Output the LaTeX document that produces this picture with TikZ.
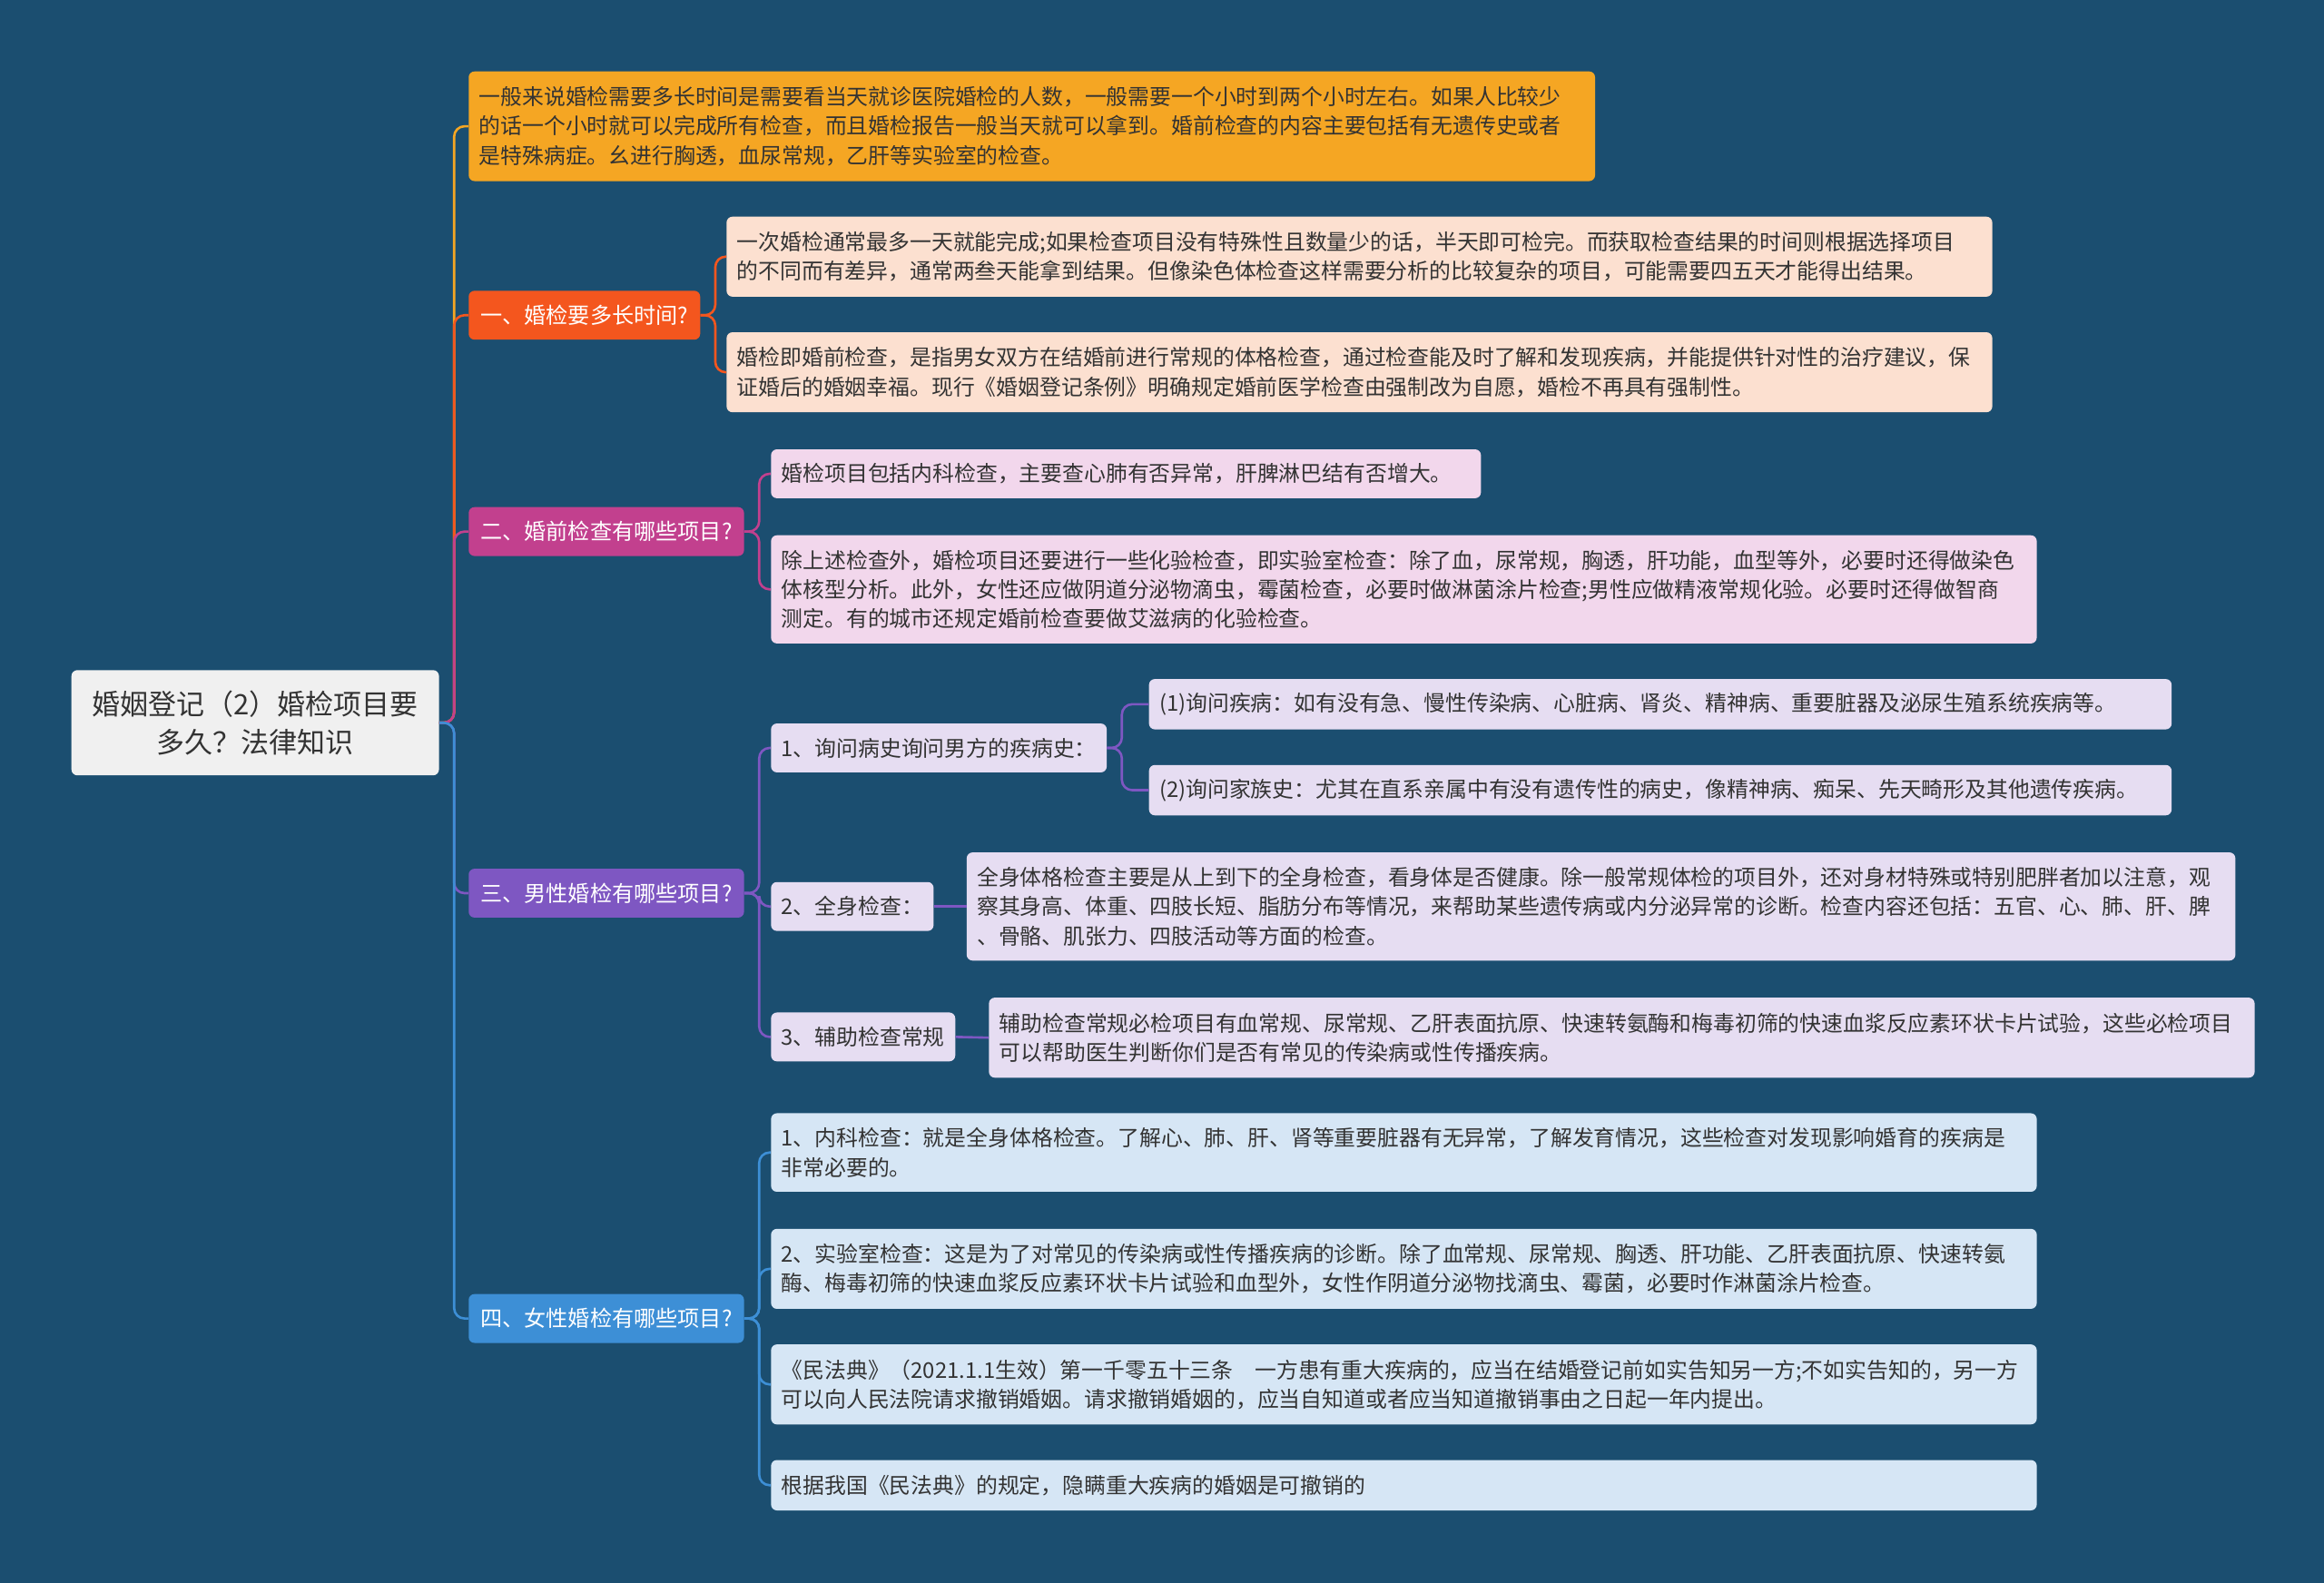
\documentclass[tikz,border=0pt]{standalone}
\usepackage{fontspec}
\setmainfont{Noto Sans CJK SC}
\definecolor{bg}{HTML}{1B4E70}
\definecolor{cOr}{HTML}{F5A623}
\definecolor{cRd}{HTML}{F4561E}
\definecolor{cMg}{HTML}{C2408E}
\definecolor{cPu}{HTML}{7E57C2}
\definecolor{cBl}{HTML}{3D8FD6}
\definecolor{fRd}{HTML}{FCE0D0}
\definecolor{fMg}{HTML}{F2D7EC}
\definecolor{fPu}{HTML}{E6DDF2}
\definecolor{fBl}{HTML}{D6E6F5}
\definecolor{txt}{HTML}{333333}
\begin{document}
\begin{tikzpicture}[x=1pt,y=-1pt,
  box/.style={anchor=north west,rounded corners=4pt,inner xsep=7pt,inner ysep=0pt,align=left,text=txt,font=\fontsize{14.6}{19.8}\selectfont},
  br/.style={box,text=white,inner xsep=8pt,font=\fontsize{14.8}{19}\selectfont},
  ln/.style={line width=1.6pt,rounded corners=7pt}]
\fill[bg] (0,0) rectangle (1568,1068);
\useasboundingbox (0,0) rectangle (1568,1068);
% root
\node[box,fill=black!6,inner xsep=8pt,text width=232,minimum height=71,align=center,font=\fontsize{19}{26}\selectfont] (root) at (48,452) {婚姻登记（2）婚检项目要\\多久？法律知识};
% top
\node[box,fill=cOr,text width=746,minimum height=74] (top) at (316,48) {一般来说婚检需要多长时间是需要看当天就诊医院婚检的人数，一般需要一个小时到两个小时左右。如果人比较少\\的话一个小时就可以完成所有检查，而且婚检报告一般当天就可以拿到。婚前检查的内容主要包括有无遗传史或者\\是特殊病症。幺进行胸透，血尿常规，乙肝等实验室的检查。};
% branches
\node[br,fill=cRd,minimum height=33] (b1) at (316,196) {一、婚检要多长时间?};
\node[br,fill=cMg,minimum height=33] (b2) at (316,342) {二、婚前检查有哪些项目?};
\node[br,fill=cPu,minimum height=33] (b3) at (316,586) {三、男性婚检有哪些项目?};
\node[br,fill=cBl,minimum height=33] (b4) at (316,873) {四、女性婚检有哪些项目?};
% b1 children
\node[box,fill=fRd,text width=840,minimum height=54] (a1) at (490,146) {一次婚检通常最多一天就能完成;如果检查项目没有特殊性且数量少的话，半天即可检完。而获取检查结果的时间则根据选择项目\\的不同而有差异，通常两叁天能拿到结果。但像染色体检查这样需要分析的比较复杂的项目，可能需要四五天才能得出结果。};
\node[box,fill=fRd,text width=840,minimum height=54] (a2) at (490,224) {婚检即婚前检查，是指男女双方在结婚前进行常规的体格检查，通过检查能及时了解和发现疾病，并能提供针对性的治疗建议，保\\证婚后的婚姻幸福。现行《婚姻登记条例》明确规定婚前医学检查由强制改为自愿，婚检不再具有强制性。};
% b2 children
\node[box,fill=fMg,text width=465,minimum height=33] (m1) at (520,303) {婚检项目包括内科检查，主要查心肺有否异常，肝脾淋巴结有否增大。};
\node[box,fill=fMg,text width=840,minimum height=73] (m2) at (520,361) {除上述检查外，婚检项目还要进行一些化验检查，即实验室检查：除了血，尿常规，胸透，肝功能，血型等外，必要时还得做染色\\体核型分析。此外，女性还应做阴道分泌物滴虫，霉菌检查，必要时做淋菌涂片检查;男性应做精液常规化验。必要时还得做智商\\测定。有的城市还规定婚前检查要做艾滋病的化验检查。};
% b3 children
\node[box,fill=fPu,minimum height=33] (p1) at (520,488) {1、询问病史询问男方的疾病史：};
\node[box,fill=fPu,minimum height=33] (p2) at (520,595) {2、全身检查：};
\node[box,fill=fPu,minimum height=33] (p3) at (520,683) {3、辅助检查常规};
\node[box,fill=fPu,text width=676,minimum height=34] (q1) at (775,458) {(1)询问疾病：如有没有急、慢性传染病、心脏病、肾炎、精神病、重要脏器及泌尿生殖系统疾病等。};
\node[box,fill=fPu,text width=676,minimum height=34] (q2) at (775,516) {(2)询问家族史：尤其在直系亲属中有没有遗传性的病史，像精神病、痴呆、先天畸形及其他遗传疾病。};
\node[box,fill=fPu,text width=842,minimum height=73] (q3) at (652,575) {全身体格检查主要是从上到下的全身检查，看身体是否健康。除一般常规体检的项目外，还对身材特殊或特别肥胖者加以注意，观\\察其身高、体重、四肢长短、脂肪分布等情况，来帮助某些遗传病或内分泌异常的诊断。检查内容还包括：五官、心、肺、肝、脾\\、骨骼、肌张力、四肢活动等方面的检查。};
\node[box,fill=fPu,text width=840,minimum height=54] (q4) at (667,673) {辅助检查常规必检项目有血常规、尿常规、乙肝表面抗原、快速转氨酶和梅毒初筛的快速血浆反应素环状卡片试验，这些必检项目\\可以帮助医生判断你们是否有常见的传染病或性传播疾病。};
% b4 children
\node[box,fill=fBl,text width=840,minimum height=53] (f1) at (520,751) {1、内科检查：就是全身体格检查。了解心、肺、肝、肾等重要脏器有无异常，了解发育情况，这些检查对发现影响婚育的疾病是\\非常必要的。};
\node[box,fill=fBl,text width=840,minimum height=54] (f2) at (520,829) {2、实验室检查：这是为了对常见的传染病或性传播疾病的诊断。除了血常规、尿常规、胸透、肝功能、乙肝表面抗原、快速转氨\\酶、梅毒初筛的快速血浆反应素环状卡片试验和血型外，女性作阴道分泌物找滴虫、霉菌，必要时作淋菌涂片检查。};
\node[box,fill=fBl,text width=840,minimum height=54] (f3) at (520,907) {《民法典》（2021.1.1生效）第一千零五十三条　一方患有重大疾病的，应当在结婚登记前如实告知另一方;不如实告知的，另一方\\可以向人民法院请求撤销婚姻。请求撤销婚姻的，应当自知道或者应当知道撤销事由之日起一年内提出。};
\node[box,fill=fBl,text width=840,minimum height=34] (f4) at (520,985) {根据我国《民法典》的规定，隐瞒重大疾病的婚姻是可撤销的};
% connectors
\draw[ln,cOr] (root.east) -- ++(10,0) |- (top.west);
\draw[ln,cRd] (root.east) -- ++(10,0) |- (b1.west);
\draw[ln,cMg] (root.east) -- ++(10,0) |- (b2.west);
\draw[ln,cPu] (root.east) -- ++(10,0) |- (b3.west);
\draw[ln,cBl] (root.east) -- ++(10,0) |- (b4.west);
\foreach \c in {a1,a2} \draw[ln,cRd] (b1.east) -- ++(10,0) |- (\c.west);
\foreach \c in {m1,m2} \draw[ln,cMg] (b2.east) -- ++(10,0) |- (\c.west);
\foreach \c in {p1,p2,p3} \draw[ln,cPu] (b3.east) -- ++(10,0) |- (\c.west);
\foreach \c in {q1,q2} \draw[ln,cPu] (p1.east) -- ++(10,0) |- (\c.west);
\draw[ln,cPu] (p2.east) -- (q3.west);
\draw[ln,cPu] (p3.east) -- (q4.west);
\foreach \c in {f1,f2,f3,f4} \draw[ln,cBl] (b4.east) -- ++(10,0) |- (\c.west);
\end{tikzpicture}
\end{document}
